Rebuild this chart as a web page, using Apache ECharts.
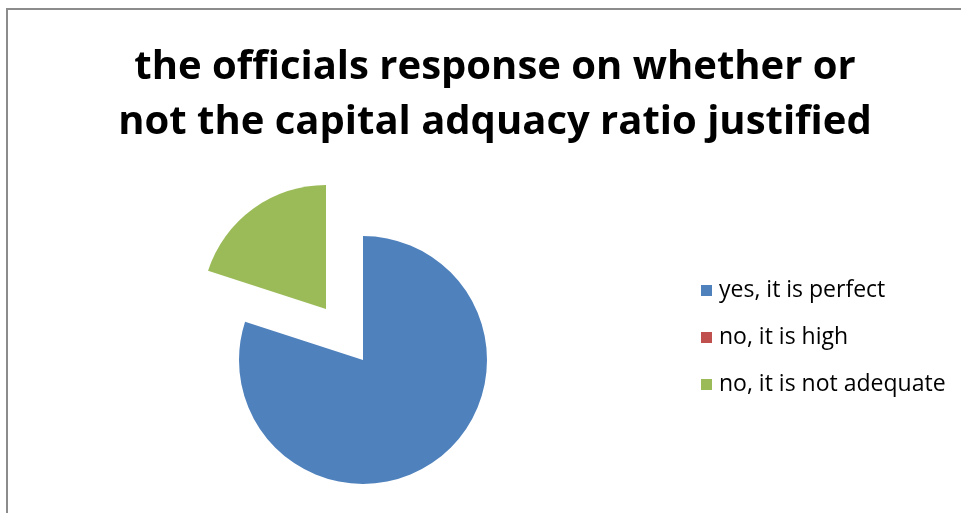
<!DOCTYPE html>
<html><head><meta charset="utf-8">
<script src="https://cdn.jsdelivr.net/npm/echarts@6/dist/echarts.min.js"></script>
<style>html,body{margin:0;padding:0;background:#fff}#c{width:961px;height:513px}</style>
</head><body><div id="c"></div>
<script>
const titleLines = ['the officials response on whether or', 'not the capital adquacy ratio justified'];
const categories = ['yes, it is perfect', 'no, it is high', 'no, it is not adequate'];
const values = [80, 0, 20];
const colors = ['#4F81BD', '#C0504D', '#9BBB59'];
const explodedIndex = 2;

const chart = echarts.init(document.getElementById('c'));
chart.setOption({
  animation: false,
  graphic: [{
    type: 'rect',
    shape: { x: 7, y: 9, width: 1000, height: 600 },
    style: { fill: 'none', stroke: '#8c8c8c', lineWidth: 2 }
  }],
  title: {
    text: titleLines.join('\n'),
    left: 490, top: 35, textAlign: 'center',
    textStyle: { fontFamily: 'Open Sans', fontWeight: 'bold', fontSize: 40, lineHeight: 55, color: '#000' }
  },
  legend: {
    orient: 'vertical', left: 696, top: 274,
    itemWidth: 11, itemHeight: 11, itemGap: 24,
    icon: 'rect', selectedMode: false,
    textStyle: { fontFamily: 'Open Sans', fontSize: 23, lineHeight: 23, color: '#000', padding: [0,0,0,2] },
    data: categories
  },
  series: [{
    type: 'pie', center: [363, 360], radius: 124,
    startAngle: 90, clockwise: true,
    selectedMode: 'multiple', selectedOffset: 63,
    label: { show: false }, labelLine: { show: false },
    emphasis: { disabled: true },
    data: categories.map((n, i) => ({ name: n, value: values[i], selected: i === explodedIndex, itemStyle: { color: colors[i] } }))
  }]
});
</script></body></html>
